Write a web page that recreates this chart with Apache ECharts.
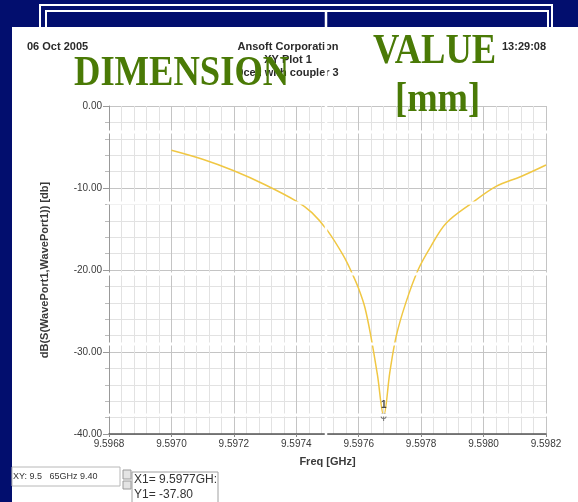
<!DOCTYPE html>
<html>
<head>
<meta charset="utf-8">
<script src="https://cdn.jsdelivr.net/npm/echarts@6/dist/echarts.min.js"></script>
<style>
html, body { margin: 0; padding: 0; background: #020e6e; }
#chart { width: 578px; height: 502px; }
</style>
</head>
<body>
<div id="chart"></div>
<script>
// frequency [GHz] and dB(S11)
var freqList = [9.59700, 9.59710, 9.59720, 9.59730, 9.59740, 9.59745, 9.59750, 9.59755,
	9.59758, 9.59760, 9.59762, 9.59764, 9.59766, 9.59768, 9.59770, 9.59772, 9.59775,
	9.59779, 9.59783, 9.59788, 9.59796, 9.59804, 9.59812, 9.59820];
var dbList = [-5.4, -6.5, -7.9, -9.6, -11.6, -13.0, -15.2, -18.2,
	-20.5, -22.3, -24.6, -28.3, -32.8, -37.8, -32.4, -28.1, -24.1,
	-20.0, -17.2, -14.3, -11.9, -9.8, -8.6, -7.2];
var markerPoint = [9.59768, -37.80];
var markerName = "1";

var headerLeft = "06 Oct 2005";
var headerCenter = ["Ansoft Corporation", "XY Plot 1", "9cell with coupler 3"];
var headerRight = "13:29:08";
var xAxisName = "Freq [GHz]";
var yAxisName = "dB(S(WavePort1,WavePort1)) [db]";
var readoutXY = "XY: 9.5   65GHz 9.40";
var readoutMarker = ["X1= 9.5977GH:", "Y1= -37.80"];

var navy = "#020e6e";
var green = "#4a7a06";
var textColor = "#2a2a2a";

var seriesData = [];
for (var i = 0; i < freqList.length; i++) {
	seriesData.push([freqList[i], dbList[i]]);
}

var graphics = [
	// white screenshot panel
	{ type: 'rect', z: -10, shape: { x: 12, y: 27, width: 566, height: 475 }, style: { fill: '#ffffff' } },
	// slide table borders
	{ type: 'rect', z: -11, shape: { x: 40, y: 5, width: 512, height: 40 }, style: { fill: 'none', stroke: '#ffffff', lineWidth: 2 } },
	{ type: 'rect', z: -11, shape: { x: 46, y: 11, width: 502, height: 40 }, style: { fill: 'none', stroke: '#ffffff', lineWidth: 2 } },
	// header texts
	{ type: 'text', z: 50, left: 27, top: 41, style: { text: headerLeft, font: 'bold 11px "Liberation Sans", Arial', fill: textColor } },
	{ type: 'text', z: 50, left: 502, top: 41, style: { text: headerRight, font: 'bold 11px "Liberation Sans", Arial', fill: textColor } }
];

for (var h = 0; h < headerCenter.length; h++) {
	graphics.push({
		type: 'text', z: 50, x: 288, y: 47 + h * 13,
		style: { text: headerCenter[h], font: 'bold 11px "Liberation Sans", Arial', fill: textColor, align: 'center', verticalAlign: 'middle' }
	});
}

// white table lines of the slide showing through the screenshot
var whiteRows = [132, 203, 274, 344, 415];
for (var r = 0; r < whiteRows.length; r++) {
	graphics.push({
		type: 'line', z: 90,
		shape: { x1: 107, y1: whiteRows[r], x2: 553, y2: whiteRows[r] },
		style: { stroke: '#ffffff', lineWidth: 3 }
	});
}
graphics.push({ type: 'line', z: 90, shape: { x1: 326, y1: 11, x2: 326, y2: 445 }, style: { stroke: '#ffffff', lineWidth: 2.5 } });

// green slide text on top
graphics.push({ type: 'text', z: 100, x: 74, y: 53, scaleX: 0.87, style: { text: 'DIMENSION', font: 'bold 42px "Liberation Serif", "Times New Roman"', fill: green } });
graphics.push({ type: 'text', z: 100, x: 373, y: 31, scaleX: 0.87, style: { text: 'VALUE', font: 'bold 42px "Liberation Serif", "Times New Roman"', fill: green } });
graphics.push({ type: 'text', z: 100, x: 395, y: 79, scaleX: 0.87, style: { text: '[mm]', font: 'bold 42px "Liberation Serif", "Times New Roman"', fill: green } });

// readout widgets at the bottom
graphics.push({ type: 'rect', z: 50, shape: { x: 12, y: 467, width: 108, height: 19 }, style: { fill: '#ffffff', stroke: '#b8b8b8', lineWidth: 1 } });
graphics.push({ type: 'text', z: 51, left: 13, top: 472, style: { text: readoutXY, font: '9px "Liberation Sans", Arial', fill: '#333' } });
graphics.push({ type: 'rect', z: 50, shape: { x: 123, y: 470, width: 8, height: 9 }, style: { fill: '#e4e4e4', stroke: '#9a9a9a', lineWidth: 1 } });
graphics.push({ type: 'rect', z: 50, shape: { x: 123, y: 481, width: 8, height: 8 }, style: { fill: '#e4e4e4', stroke: '#9a9a9a', lineWidth: 1 } });
graphics.push({ type: 'rect', z: 50, shape: { x: 132, y: 472, width: 86, height: 40 }, style: { fill: '#ffffff', stroke: '#a0a0a0', lineWidth: 1 } });
graphics.push({ type: 'text', z: 51, left: 134, top: 474, style: { text: readoutMarker[0], font: '12px "Liberation Sans", Arial', fill: '#333' } });
graphics.push({ type: 'text', z: 51, left: 134, top: 489, style: { text: readoutMarker[1], font: '12px "Liberation Sans", Arial', fill: '#333' } });

var chart = echarts.init(document.getElementById('chart'));
var option = {
	backgroundColor: navy,
	animation: false,
	grid: { left: 109, right: 32, top: 106, bottom: 68, containLabel: false },
	graphic: graphics,
	xAxis: {
		type: 'value',
		min: 9.5968,
		max: 9.5982,
		interval: 0.0002,
		name: xAxisName,
		nameLocation: 'middle',
		nameGap: 22,
		nameTextStyle: { color: '#3a3a3a', fontSize: 11, fontWeight: 'bold', fontFamily: '"Liberation Sans", Arial' },
		axisLine: { show: true, onZero: false, lineStyle: { color: '#555', width: 1.5 } },
		axisTick: { show: true, length: 3, lineStyle: { color: '#888' } },
		axisLabel: {
			color: '#3a3a3a', fontSize: 10, fontFamily: '"Liberation Sans", Arial', margin: 5,
			formatter: function (v) { return v.toFixed(4); }
		},
		splitLine: { show: true, lineStyle: { color: '#c4c4c4', width: 1 } },
		minorTick: { show: false, splitNumber: 5 },
		minorSplitLine: { show: true, lineStyle: { color: '#e2e2e2', width: 1 } }
	},
	yAxis: {
		type: 'value',
		min: -40,
		max: 0,
		interval: 10,
		name: yAxisName,
		nameLocation: 'middle',
		nameRotate: 90,
		nameGap: 59,
		nameTextStyle: { color: '#3a3a3a', fontSize: 11, fontWeight: 'bold', fontFamily: '"Liberation Sans", Arial' },
		axisLine: { show: true, lineStyle: { color: '#999', width: 1 } },
		axisTick: { show: true, length: 6, lineStyle: { color: '#999' } },
		minorTick: { show: true, splitNumber: 5, length: 4, lineStyle: { color: '#bbb' } },
		axisLabel: {
			color: '#3a3a3a', fontSize: 10, fontFamily: '"Liberation Sans", Arial', margin: 7,
			formatter: function (v) { return v.toFixed(2); }
		},
		splitLine: { show: true, lineStyle: { color: '#c4c4c4', width: 1 } },
		minorSplitLine: { show: true, lineStyle: { color: '#e2e2e2', width: 1 } }
	},
	series: [{
		name: 'S11',
		type: 'line',
		data: seriesData,
		smooth: 0.35,
		showSymbol: false,
		lineStyle: { color: '#f0c743', width: 1.5 },
		z: 5
	}, {
		name: 'marker',
		type: 'scatter',
		data: [markerPoint],
		symbolSize: 1,
		itemStyle: { color: 'rgba(0,0,0,0)' },
		label: {
			show: true,
			position: 'inside',
			offset: [0, -5],
			formatter: '{a|' + markerName + '}\n{b|φ}',
			rich: {
				a: { fontSize: 10, fontWeight: 'bold', color: '#222', lineHeight: 10, fontFamily: '"Liberation Sans", Arial' },
				b: { fontSize: 11, color: '#555', lineHeight: 12, fontFamily: '"DejaVu Sans", sans-serif' }
			}
		},
		z: 6
	}]
};
chart.setOption(option);
</script>
</body>
</html>
